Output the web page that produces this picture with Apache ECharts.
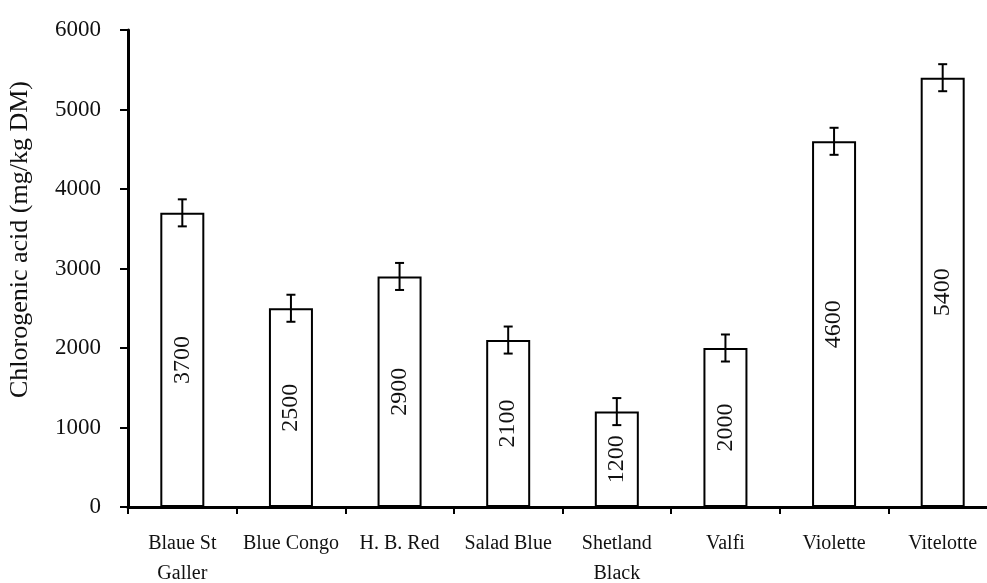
<!DOCTYPE html>
<html>
<head>
<meta charset="utf-8">
<script src="https://cdn.jsdelivr.net/npm/echarts@6/dist/echarts.min.js"></script>
<style>
  html, body { margin: 0; padding: 0; background: #fff; }
  #chart { width: 987px; height: 583px; }
</style>
</head>
<body>
<div id="chart"></div>
<script>
// Potato cultivars and their chlorogenic acid content
const cultivars = ['Blaue St\nGaller', 'Blue Congo', 'H. B. Red', 'Salad Blue', 'Shetland\nBlack', 'Valfi', 'Violette', 'Vitelotte'];
const chlorogenic = [3700, 2500, 2900, 2100, 1200, 2000, 4600, 5400];
const errors = [170, 170, 170, 170, 170, 170, 170, 170];
const yTicks = [0, 1000, 2000, 3000, 4000, 5000, 6000];

const FONT = '"Liberation Serif", "DejaVu Serif", serif';

const errorData = chlorogenic.map((v, i) => [i, v - errors[i], v + errors[i]]);

const chart = echarts.init(document.getElementById('chart'), null, { renderer: 'canvas' });
chart.setOption({
  animation: false,
  backgroundColor: '#fff',
  grid: { left: 128, top: 30, width: 869, bottom: 76, containLabel: false, outerBoundsMode: 'none' },
  xAxis: {
    type: 'category',
    data: cultivars,
    boundaryGap: true,
    axisLine: { lineStyle: { color: '#000', width: 3 } },
    axisTick: { show: true, inside: false, length: 7, lineStyle: { color: '#000', width: 2 } },
    axisLabel: { interval: 0, margin: 22, color: '#111', fontFamily: FONT, fontSize: 20, lineHeight: 30 }
  },
  yAxis: {
    type: 'value',
    min: yTicks[0],
    max: yTicks[yTicks.length - 1],
    interval: yTicks[1] - yTicks[0],
    name: 'Chlorogenic acid (mg/kg DM)',
    nameLocation: 'middle',
    nameGap: 95,
    nameTextStyle: { color: '#111', fontFamily: FONT, fontSize: 26, padding: [0, 0, 0, 58] },
    splitLine: { show: false },
    axisLine: { show: true, lineStyle: { color: '#000', width: 3 } },
    axisTick: { show: true, inside: false, length: 8, lineStyle: { color: '#000', width: 2 } },
    axisLabel: { margin: 27, color: '#111', fontFamily: FONT, fontSize: 23, formatter: (v) => String(v) }
  },
  series: [
    {
      type: 'bar',
      data: chlorogenic,
      barWidth: 44,
      itemStyle: { color: '#fff', borderColor: '#000', borderWidth: 2 },
      label: {
        show: true,
        position: 'inside',
        rotate: 90,
        color: '#111',
        fontFamily: FONT,
        fontSize: 24
      }
    },
    {
      type: 'custom',
      data: errorData,
      z: 10,
      renderItem: function (params, api) {
        const x = api.value(0);
        const lo = api.coord([x, api.value(1)]);
        const hi = api.coord([x, api.value(2)]);
        const cap = 4.5;
        const style = { stroke: '#000', lineWidth: 2, fill: null };
        return {
          type: 'group',
          children: [
            { type: 'line', shape: { x1: hi[0], y1: hi[1], x2: lo[0], y2: lo[1] }, style: style },
            { type: 'line', shape: { x1: hi[0] - cap, y1: hi[1], x2: hi[0] + cap, y2: hi[1] }, style: style },
            { type: 'line', shape: { x1: lo[0] - cap, y1: lo[1], x2: lo[0] + cap, y2: lo[1] }, style: style }
          ]
        };
      }
    }
  ]
});
</script>
</body>
</html>
